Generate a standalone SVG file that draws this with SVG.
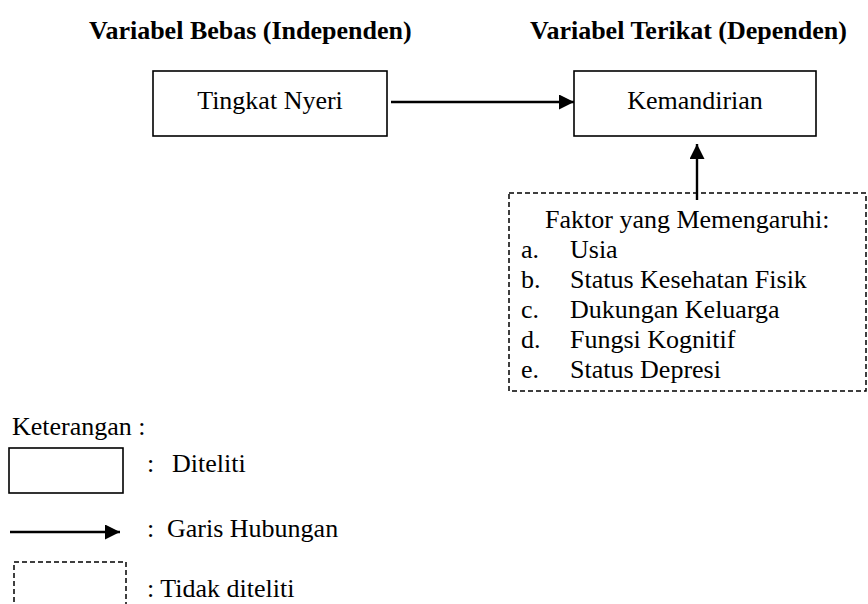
<svg xmlns="http://www.w3.org/2000/svg" width="868" height="604" viewBox="0 0 868 604">
<defs>
<style>
text{font-family:"Liberation Serif","Times New Roman",serif;font-size:26px;fill:#000}
.b{font-weight:bold}
.box{fill:#fff;stroke:#000;stroke-width:1.6}
.dash{fill:none;stroke:#000;stroke-width:1.5;stroke-dasharray:5 3}
.ln{stroke:#000;stroke-width:2.4;fill:none}
</style>
<marker id="ah" markerUnits="userSpaceOnUse" markerWidth="15" markerHeight="15" viewBox="0 0 15 15" refX="15" refY="7.5" orient="auto">
<path d="M0,0 L15,7.5 L0,15 z" fill="#000"/>
</marker>
</defs>
<g id="titles">
<text class="b" x="89" y="39">Variabel Bebas (Independen)</text>
<text class="b" x="530" y="39">Variabel Terikat (Dependen)</text>
</g>
<g id="node-tingkat-nyeri">
<rect class="box" x="153" y="71" width="234" height="65"/>
<text x="270" y="109" text-anchor="middle">Tingkat Nyeri</text>
</g>
<g id="node-kemandirian">
<rect class="box" x="574" y="71" width="242" height="65"/>
<text x="695" y="109" text-anchor="middle">Kemandirian</text>
</g>
<g id="node-faktor">
<rect class="dash" x="509" y="193" width="357" height="198"/>
<text x="545" y="228">Faktor yang Memengaruhi:</text>
<text x="521" y="258">a.</text><text x="570" y="258">Usia</text>
<text x="521" y="288">b.</text><text x="570" y="288">Status Kesehatan Fisik</text>
<text x="521" y="318">c.</text><text x="570" y="318">Dukungan Keluarga</text>
<text x="521" y="348">d.</text><text x="570" y="348">Fungsi Kognitif</text>
<text x="521" y="378">e.</text><text x="570" y="378">Status Depresi</text>
</g>
<g id="connectors">
<line class="ln" x1="391" y1="102" x2="574" y2="102" marker-end="url(#ah)"/>
<line class="ln" x1="697" y1="200" x2="697" y2="144" marker-end="url(#ah)"/>
</g>
<g id="legend">
<text x="12" y="435">Keterangan :</text>
<rect class="box" x="9" y="448" width="114" height="45"/>
<text x="147" y="472">:</text><text x="172" y="472">Diteliti</text>
<line class="ln" x1="10" y1="532" x2="120" y2="532" marker-end="url(#ah)"/>
<text x="147" y="537">:</text><text x="167" y="537">Garis Hubungan</text>
<rect class="dash" x="14" y="562" width="112" height="60"/>
<text x="147" y="597">: Tidak diteliti</text>
</g>
</svg>
